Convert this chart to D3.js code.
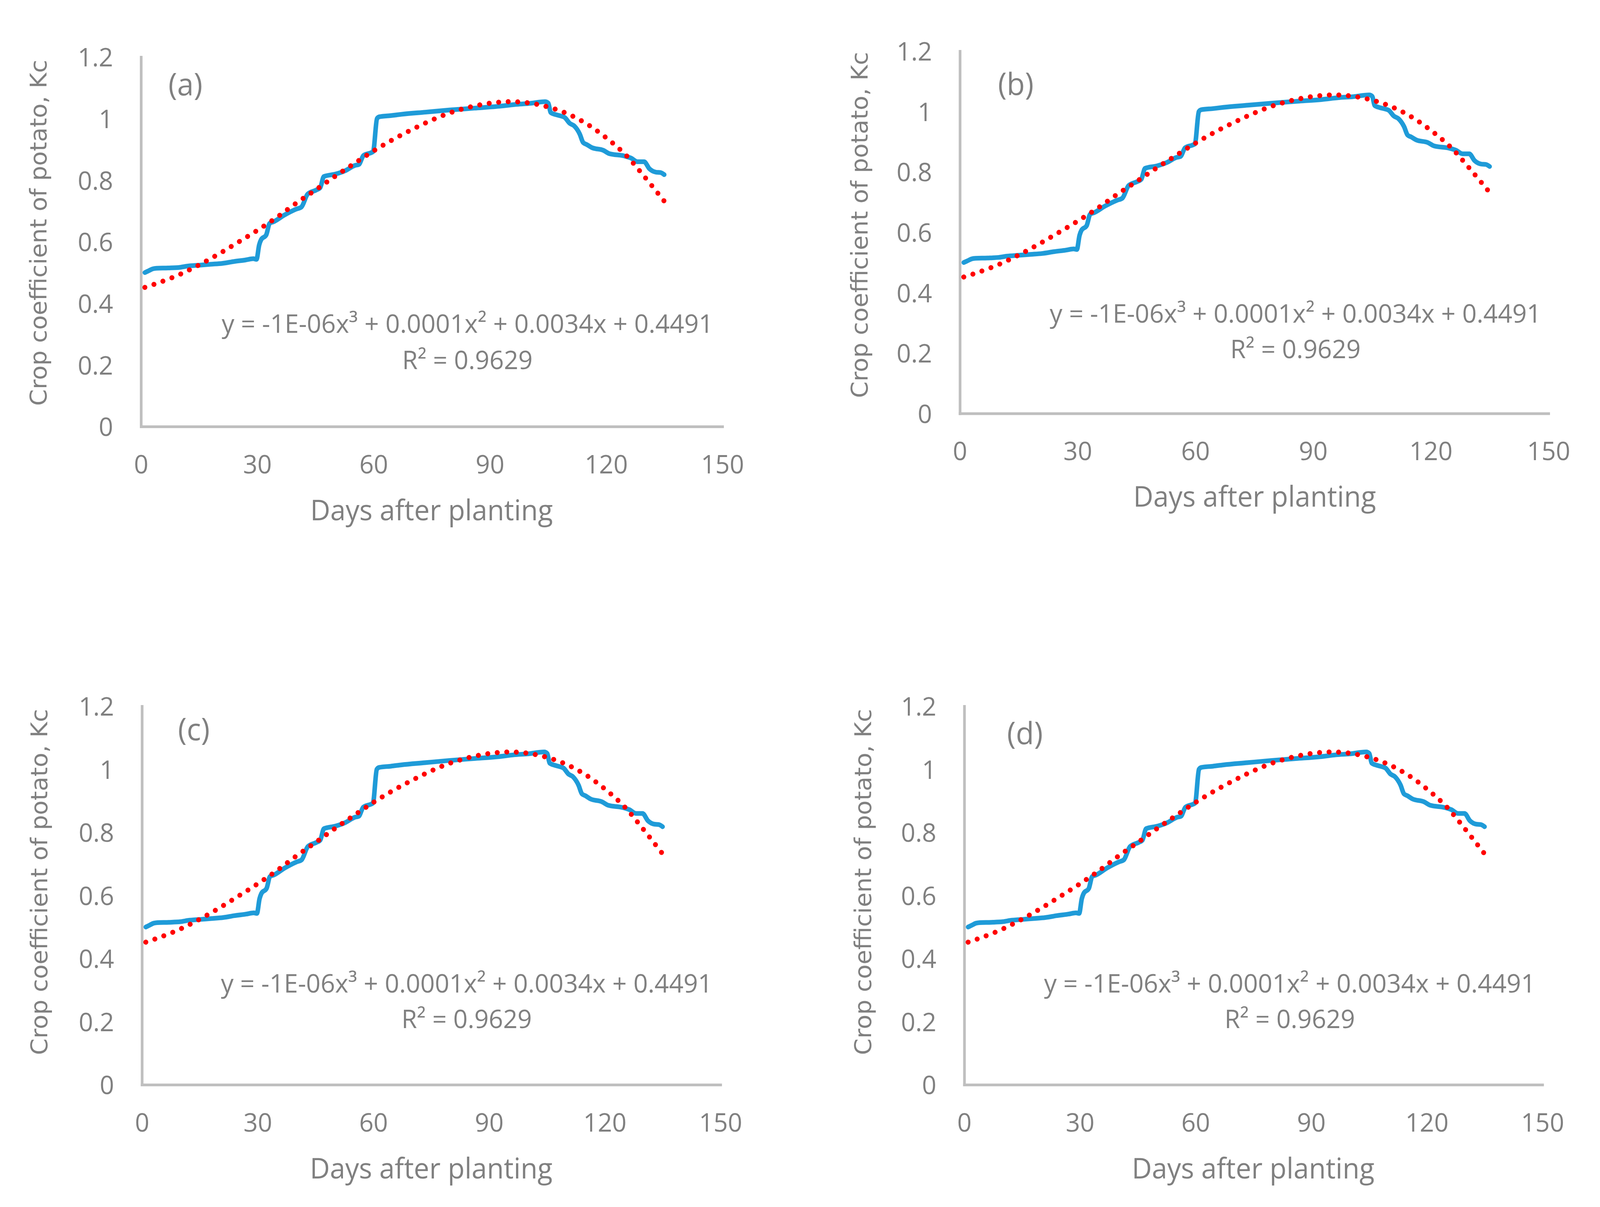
<!DOCTYPE html>
<html><head><meta charset="utf-8">
<script src="https://cdn.jsdelivr.net/npm/d3@7"></script>
<style>html,body{margin:0;padding:0;background:#fff;overflow:hidden}
#chart{display:block;width:100vw;height:100vh}</style>
</head><body>
<svg id="chart" viewBox="0 0 4193 3090" preserveAspectRatio="none"></svg>
<script>
// ---------- data ----------
const panelLabels = ["(a)", "(b)", "(c)", "(d)"];
const xTicks = [0, 30, 60, 90, 120, 150];
const yTicks = [0, 0.2, 0.4, 0.6, 0.8, 1, 1.2];
const xTitle = "Days after planting";
const yTitle = "Crop coefficient of potato, Kc";
const eqText = "y = -1E-06x³ + 0.0001x² + 0.0034x + 0.4491";
const r2Text = "R² = 0.9629";

const kcDays = [1,2,3,4,7,10,12,15,18,21,24,27,29,29.8,30.5,31,32.3,33.2,34.2,37,40,41.4,43,45.2,46.2,47.2,50.2,52.7,55.2,56.2,57.4,59.9,60.9,61.5,64.6,67.2,73.4,79.7,86,92.3,96.5,100,104.3,105.1,105.7,107,108.5,109.3,110.6,111.8,113.2,114.1,115,116.3,119.3,120.9,124.6,126.4,128.1,129.8,131.2,132.9,134,135];
const kcValues = [0.500,0.506,0.512,0.514,0.515,0.517,0.521,0.524,0.527,0.530,0.536,0.541,0.545,0.543,0.590,0.607,0.622,0.660,0.665,0.687,0.706,0.713,0.755,0.768,0.775,0.812,0.820,0.831,0.848,0.851,0.880,0.893,1.000,1.006,1.010,1.014,1.021,1.028,1.034,1.040,1.046,1.049,1.055,1.050,1.020,1.013,1.008,1.004,0.985,0.976,0.950,0.922,0.916,0.906,0.897,0.886,0.879,0.872,0.860,0.860,0.837,0.826,0.825,0.818];

const trendDays = [1,5,10,15,20,25,30,35,40,45,50,55,60,65,70,75,80,85,90,95,100,105,110,115,120,125,130,135];
const trendValues = [0.452,0.469,0.494,0.525,0.560,0.598,0.637,0.679,0.725,0.768,0.812,0.854,0.895,0.932,0.965,0.995,1.020,1.038,1.050,1.055,1.051,1.038,1.016,0.983,0.938,0.883,0.810,0.732];

// ---------- layout (pixels in the 4193x3090 drawing) ----------
const layout = [
  {l:369.5, r:1893, t:146,  b:1092,   lab:[486,244],   eq:[1225,852,945],   yt:[122,596],   xt:[1131,1332]},
  {l:2515.5,r:4058, t:131,  b:1058.5, lab:[2662,243],  eq:[3395,826,917],   yt:[2274,576],  xt:[3288,1297]},
  {l:372,   r:1888, t:1808, b:2777,   lab:[508,1895],  eq:[1223,2541,2632], yt:[124,2258],  xt:[1130,3017]},
  {l:2527,  r:4042, t:1808, b:2777,   lab:[2686,1905], eq:[3380,2541,2632], yt:[2283,2258], xt:[3284,3017]}
];

const TEXT = "#808080", AXIS = "#BFBFBF", BLUE = "#1F9BD8", RED = "#FF0000";
const FONT = "'Open Sans', 'Liberation Sans', sans-serif";
const svg = d3.select("#chart");
svg.append("rect").attr("width", 4193).attr("height", 3090).attr("fill", "#fff");

function fit(sel, target) {
  const w = sel.node().getComputedTextLength();
  const fs = parseFloat(sel.attr("font-size"));
  if (w > 0) sel.attr("font-size", fs * target / w);
}

const kcData = kcDays.map((d, i) => [d, kcValues[i]]);
const trendData = trendDays.map((d, i) => [d, trendValues[i]]);

layout.forEach((L, k) => {
  const x = d3.scaleLinear().domain([0, 150]).range([L.l, L.r]);
  const y = d3.scaleLinear().domain([0, 1.2]).range([L.b, L.t]);
  const g = svg.append("g");

  // y axis
  const ya = g.append("g").attr("transform", `translate(${L.l},0)`)
    .call(d3.axisLeft(y).tickValues(yTicks).tickSize(0).tickSizeOuter(0).tickPadding(73)
      .tickFormat(d => d3.format("~g")(d)));
  // x axis
  const xa = g.append("g").attr("transform", `translate(0,${L.b})`)
    .call(d3.axisBottom(x).tickValues(xTicks).tickSize(0).tickSizeOuter(0).tickPadding(73));
  [ya, xa].forEach(a => {
    a.select(".domain").attr("stroke", AXIS).attr("stroke-width", 7).attr("stroke-linecap", "square");
    a.selectAll("text").attr("fill", TEXT).attr("font-family", FONT).attr("font-size", 66);
  });
  ya.selectAll("text").attr("dy", "0.36em");

  // observed Kc line
  const line = d3.line().x(d => x(d[0])).y(d => y(d[1])).curve(d3.curveMonotoneX);
  g.append("path").datum(kcData).attr("d", line)
    .attr("fill", "none").attr("stroke", BLUE).attr("stroke-width", 12)
    .attr("stroke-linejoin", "round").attr("stroke-linecap", "round");

  // polynomial trend (dotted)
  const tline = d3.line().x(d => x(d[0])).y(d => y(d[1])).curve(d3.curveCatmullRom);
  g.append("path").datum(trendData).attr("d", tline)
    .attr("fill", "none").attr("stroke", RED).attr("stroke-width", 13)
    .attr("stroke-linecap", "round").attr("stroke-dasharray", "0.1 24.9");

  // panel label
  g.append("text").attr("x", L.lab[0]).attr("y", L.lab[1]).attr("text-anchor", "middle")
    .attr("fill", TEXT).attr("font-family", FONT).attr("font-size", 78).text(panelLabels[k]);

  // equation + R2
  const e1 = g.append("text").attr("x", L.eq[0]).attr("y", L.eq[1]).attr("text-anchor", "middle")
    .attr("fill", TEXT).attr("font-family", FONT).attr("font-size", 64).text(eqText);
  fit(e1, 1288);
  const e2 = g.append("text").attr("x", L.eq[0]).attr("y", L.eq[2]).attr("text-anchor", "middle")
    .attr("fill", TEXT).attr("font-family", FONT).attr("font-size", 64).text(r2Text);
  fit(e2, 342);

  // axis titles
  const xt = g.append("text").attr("x", L.xt[0]).attr("y", L.xt[1]).attr("text-anchor", "middle")
    .attr("fill", TEXT).attr("font-family", FONT).attr("font-size", 70).text(xTitle);
  fit(xt, 636);
  const yt = g.append("text").attr("transform", `translate(${L.yt[0]},${L.yt[1]}) rotate(-90)`)
    .attr("text-anchor", "middle").attr("fill", TEXT)
    .attr("font-family", "'DejaVu Sans', sans-serif").attr("font-size", 52).text(yTitle);
  fit(yt, 886);
});
</script>
</body></html>
